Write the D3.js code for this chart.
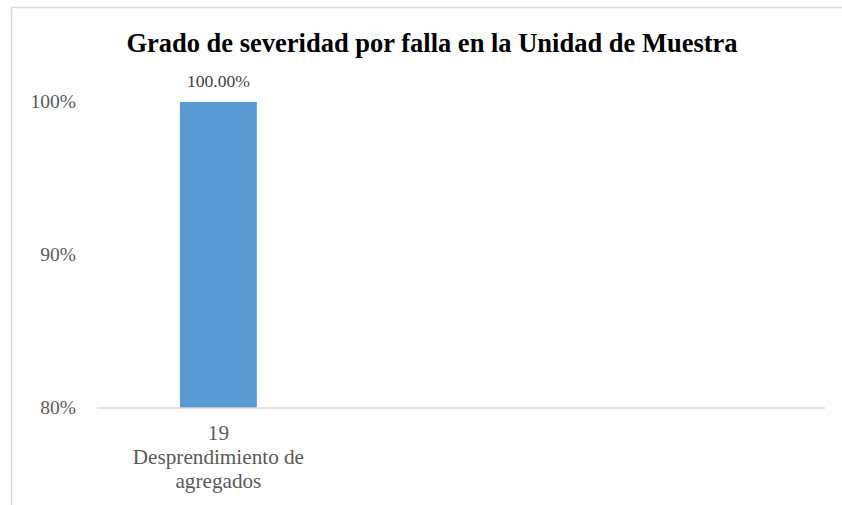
<!DOCTYPE html>
<html>
<head>
<meta charset="utf-8">
<script src="https://cdn.jsdelivr.net/npm/d3@7"></script>
<style>
  body { margin: 0; background: #fff; }
</style>
</head>
<body>
<script>
// data
const categories = ["19 Desprendimiento de agregados", "", ""];
const categoryLines = [["19", "Desprendimiento de", "agregados"], [], []];
const values = [1.0, null, null];
const yTicks = [0.8, 0.9, 1.0];
const title = "Grado de severidad por falla en la Unidad de Muestra";

const width = 842, height = 505;
const margin = { top: 102, right: 17, bottom: 97, left: 97 };
const serif = "'Times New Roman', 'Liberation Serif', Tinos, 'DejaVu Serif', serif";

const svg = d3.select("body").append("svg")
    .attr("width", width).attr("height", height)
    .style("font-family", serif);

// chart frame (extends past the picture on right and bottom)
svg.append("rect")
    .attr("x", 11.5).attr("y", 7.5)
    .attr("width", 900).attr("height", 600)
    .attr("fill", "#fff").attr("stroke", "#d9d9d9").attr("stroke-width", 1.5);

const x = d3.scaleBand().domain(d3.range(categories.length))
    .range([margin.left, width - margin.right])
    .paddingInner(0.683).paddingOuter(0.342);

const y = d3.scaleLinear().domain([0.8, 1.0])
    .range([height - margin.bottom, margin.top]);

svg.append("text")
    .attr("x", 432).attr("y", 52)
    .attr("text-anchor", "middle")
    .attr("font-family", serif)
    .attr("font-size", 26.5).attr("font-weight", "bold")
    .attr("fill", "#000")
    .text(title);

// y tick labels
svg.selectAll(".ytick").data(yTicks).enter().append("text")
    .attr("class", "ytick")
    .attr("x", 76).attr("y", d => y(d) + 5.5)
    .attr("text-anchor", "end")
    .attr("font-family", serif)
    .attr("font-size", 19.5).attr("fill", "#595959")
    .text(d3.format(".0%"));

// bars
const barData = values.map((v, i) => ({ i, v })).filter(d => d.v != null);
svg.selectAll(".bar").data(barData).enter().append("rect")
    .attr("class", "bar")
    .attr("x", d => x(d.i))
    .attr("width", x.bandwidth())
    .attr("y", d => y(d.v))
    .attr("height", d => y(0.8) - y(d.v))
    .attr("fill", "#5b9bd5");

// data labels
svg.selectAll(".dlabel").data(barData).enter().append("text")
    .attr("class", "dlabel")
    .attr("x", d => x(d.i) + x.bandwidth() / 2)
    .attr("y", d => y(d.v) - 15)
    .attr("text-anchor", "middle")
    .attr("font-family", serif)
    .attr("font-size", 17.6).attr("fill", "#404040")
    .text(d => d3.format(".2%")(d.v));

// x axis line
svg.append("line")
    .attr("x1", margin.left).attr("x2", width - margin.right)
    .attr("y1", y(0.8)).attr("y2", y(0.8))
    .attr("stroke", "#d9d9d9").attr("stroke-width", 1.5);

// category labels
categoryLines.forEach((lines, i) => {
  const t = svg.append("text")
      .attr("text-anchor", "middle")
      .attr("font-family", serif)
      .attr("font-size", 21.2).attr("fill", "#595959");
  lines.forEach((ln, k) => {
    t.append("tspan")
      .attr("x", x(i) + x.bandwidth() / 2)
      .attr("y", 440 + k * 24)
      .text(ln);
  });
});
</script>
</body>
</html>
